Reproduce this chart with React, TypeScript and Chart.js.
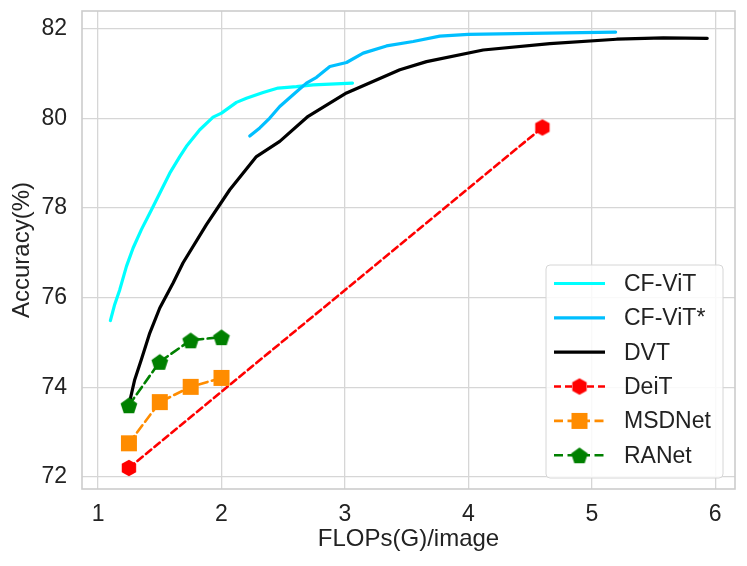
import React, { useEffect, useRef } from "react";
import { Chart, registerables } from "chart.js";

Chart.register(...registerables);

// ---- data ----
const cfvitX = [1.1, 1.135, 1.176, 1.23, 1.284, 1.351, 1.432, 1.514, 1.581, 1.662, 1.716, 1.824, 1.932, 2.0, 2.121, 2.202, 2.337, 2.459, 2.607, 2.743, 3.061];
const cfvitY = [75.49, 75.85, 76.18, 76.7, 77.11, 77.52, 77.96, 78.41, 78.78, 79.15, 79.38, 79.75, 80.03, 80.12, 80.36, 80.45, 80.58, 80.68, 80.71, 80.75, 80.79];

const cfvitStarX = [2.229, 2.31, 2.391, 2.472, 2.58, 2.688, 2.77, 2.878, 3.013, 3.148, 3.337, 3.553, 3.769, 3.999, 4.501, 5.193];
const cfvitStarY = [79.61, 79.79, 80.01, 80.27, 80.53, 80.79, 80.92, 81.16, 81.25, 81.46, 81.62, 81.72, 81.84, 81.88, 81.9, 81.93];

const dvtX = [1.25, 1.297, 1.351, 1.419, 1.5, 1.608, 1.689, 1.878, 2.067, 2.283, 2.472, 2.702, 3.013, 3.445, 3.661, 4.12, 4.66, 5.201, 5.579, 5.935];
const dvtY = [73.6, 74.17, 74.62, 75.21, 75.77, 76.33, 76.78, 77.63, 78.41, 79.15, 79.49, 80.05, 80.57, 81.09, 81.27, 81.53, 81.67, 81.77, 81.8, 81.79];

const deitX = [1.25, 4.6];
const deitY = [72.2, 79.8];

const msdnetX = [1.25, 1.5, 1.75, 2.0];
const msdnetY = [72.75, 73.67, 74.01, 74.21];

const ranetX = [1.25, 1.5, 1.75, 2.0];
const ranetY = [73.6, 74.57, 75.05, 75.12];

const seriesLabels = ["CF-ViT", "CF-ViT*", "DVT", "DeiT", "MSDNet", "RANet"];
const xTicks = [1, 2, 3, 4, 5, 6];
const yTicks = [72, 74, 76, 78, 80, 82];

const TEXT = "#222222";
const FONT = "'Liberation Sans', Arial, Helvetica, sans-serif";

function makeMarker(shape: string, color: string): HTMLCanvasElement {
  const size = 22;
  const c = document.createElement("canvas");
  c.width = size;
  c.height = size;
  const ctx = c.getContext("2d")!;
  const cx = size / 2;
  const cy = size / 2;
  ctx.fillStyle = color;
  ctx.beginPath();
  if (shape === "square") {
    ctx.rect(cx - 8, cy - 8, 16, 16);
  } else {
    const n = shape === "hex" ? 6 : 5;
    const r = shape === "hex" ? 8.3 : 8.8;
    for (let k = 0; k < n; k++) {
      const a = -Math.PI / 2 + (k * 2 * Math.PI) / n;
      const px = cx + r * Math.cos(a);
      const py = cy + r * Math.sin(a) + (shape === "pent" ? 1 : 0);
      if (k === 0) ctx.moveTo(px, py);
      else ctx.lineTo(px, py);
    }
    ctx.closePath();
  }
  ctx.fill();
  return c;
}

function zip(xs: number[], ys: number[]) {
  return xs.map((x, i) => ({ x, y: ys[i] }));
}

export default function App() {
  const ref = useRef<HTMLCanvasElement>(null);

  useEffect(() => {
    document.body.style.margin = "0";
    const hex = makeMarker("hex", "#ff0000");
    const sq = makeMarker("square", "#ff8c00");
    const pent = makeMarker("pent", "#008000");

    const styles = [
      { color: "#00ffff", dash: [] as number[], marker: null as HTMLCanvasElement | null },
      { color: "#00bfff", dash: [], marker: null },
      { color: "#000000", dash: [], marker: null },
      { color: "#ff0000", dash: [7, 4], marker: hex },
      { color: "#ff8c00", dash: [9, 4.5], marker: sq },
      { color: "#008000", dash: [9, 4.5], marker: pent },
    ];
    const dataArr = [
      zip(cfvitX, cfvitY),
      zip(cfvitStarX, cfvitStarY),
      zip(dvtX, dvtY),
      zip(deitX, deitY),
      zip(msdnetX, msdnetY),
      zip(ranetX, ranetY),
    ];

    const datasets = seriesLabels.map((label, i) => ({
      label,
      data: dataArr[i],
      borderColor: styles[i].color,
      backgroundColor: styles[i].color,
      borderWidth: i < 3 ? 3.2 : 2.6,
      borderDash: styles[i].dash,
      borderCapStyle: "round",
      borderJoinStyle: "round",
      pointStyle: styles[i].marker || "circle",
      pointRadius: styles[i].marker ? 8 : 0,
      tension: 0,
      fill: false,
      order: 5 - i,
    }));

    const framePlugin = {
      id: "frame",
      beforeDatasetsDraw(chart: any) {
        const { ctx, chartArea: a } = chart;
        ctx.save();
        ctx.strokeStyle = "#cccccc";
        ctx.lineWidth = 1.6;
        ctx.strokeRect(a.left, a.top, a.right - a.left, a.bottom - a.top);
        ctx.restore();
      },
    };

    const legendPlugin = {
      id: "customLegend",
      afterDraw(chart: any) {
        const { ctx, chartArea: a } = chart;
        const w = 177;
        const h = 213;
        const x0 = a.right - 12 - w;
        const y0 = a.bottom - 11 - h;
        ctx.save();
        ctx.beginPath();
        const r = 4;
        ctx.moveTo(x0 + r, y0);
        ctx.arcTo(x0 + w, y0, x0 + w, y0 + h, r);
        ctx.arcTo(x0 + w, y0 + h, x0, y0 + h, r);
        ctx.arcTo(x0, y0 + h, x0, y0, r);
        ctx.arcTo(x0, y0, x0 + w, y0, r);
        ctx.closePath();
        ctx.fillStyle = "rgba(255,255,255,0.85)";
        ctx.fill();
        ctx.strokeStyle = "#d6d6d6";
        ctx.lineWidth = 1;
        ctx.stroke();

        ctx.font = `23px ${FONT}`;
        ctx.textBaseline = "middle";
        ctx.textAlign = "left";
        chart.data.datasets.forEach((ds: any, i: number) => {
          const cy = y0 + 18.5 + i * 34.35;
          const lx1 = x0 + 8;
          const lx2 = x0 + 59;
          ctx.strokeStyle = ds.borderColor;
          ctx.lineWidth = ds.borderWidth;
          ctx.setLineDash(ds.borderDash || []);
          ctx.beginPath();
          ctx.moveTo(lx1, cy);
          ctx.lineTo(lx2, cy);
          ctx.stroke();
          ctx.setLineDash([]);
          const m = styles[i].marker;
          if (m) ctx.drawImage(m, (lx1 + lx2) / 2 - m.width / 2, cy - m.height / 2);
          ctx.fillStyle = TEXT;
          ctx.fillText(ds.label, x0 + 78, cy + 1);
        });
        ctx.restore();
      },
    };

    const chart = new Chart(ref.current!, {
      type: "line",
      data: { datasets },
      plugins: [framePlugin, legendPlugin],
      options: {
        animation: false,
        responsive: false,
        devicePixelRatio: window.devicePixelRatio || 1,
        layout: { padding: { top: 11, right: 12, left: 0, bottom: 0 } },
        plugins: {
          legend: { display: false },
          tooltip: { enabled: false },
        },
        scales: {
          x: {
            type: "linear",
            min: 0.87,
            max: 6.16,
            afterBuildTicks: (s: any) => {
              s.ticks = xTicks.map((v) => ({ value: v }));
            },
            afterFit: (s: any) => {
              s.height = 77;
              s.paddingLeft = 0;
              s.paddingRight = 0;
            },
            grid: { color: "#d6d6d6", lineWidth: 1.3, drawTicks: false },
            border: { display: false },
            ticks: {
              color: TEXT,
              font: { family: FONT, size: 23 },
              padding: 12,
              maxRotation: 0,
              callback: (v: any) => String(v),
            },
            title: {
              display: true,
              text: "FLOPs(G)/image",
              color: TEXT,
              font: { family: FONT, size: 24 },
              padding: { top: 0, bottom: 12 },
            },
          },
          y: {
            type: "linear",
            min: 71.73,
            max: 82.4,
            afterBuildTicks: (s: any) => {
              s.ticks = yTicks.map((v) => ({ value: v }));
            },
            afterFit: (s: any) => {
              s.width = 82;
              s.paddingTop = 0;
              s.paddingBottom = 0;
            },
            grid: { color: "#d6d6d6", lineWidth: 1.3, drawTicks: false },
            border: { display: false },
            ticks: {
              color: TEXT,
              font: { family: FONT, size: 23 },
              padding: 15,
              callback: (v: any) => String(v),
            },
            title: {
              display: true,
              text: "Accuracy(%)",
              color: TEXT,
              font: { family: FONT, size: 24 },
              padding: { top: 8, bottom: 0 },
            },
          },
        },
      },
    } as any);
    return () => chart.destroy();
  }, []);

  return (
    <div style={{ width: 747, height: 566, background: "#ffffff" }}>
      <canvas ref={ref} width={747} height={566} style={{ width: 747, height: 566, display: "block" }} />
    </div>
  );
}
